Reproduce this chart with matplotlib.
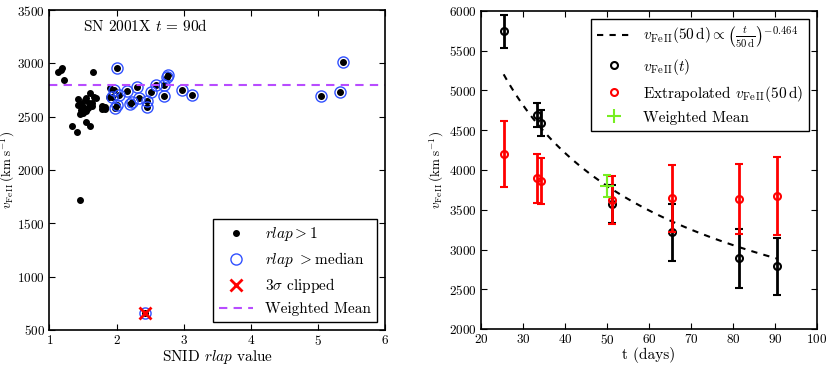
import numpy as np
import matplotlib
matplotlib.use("Agg")
import matplotlib.pyplot as plt

plt.rcParams['font.family'] = 'serif'
plt.rcParams['font.serif'] = ['cmr10', 'DejaVu Serif']
plt.rcParams['mathtext.fontset'] = 'cm'
plt.rcParams['axes.formatter.use_mathtext'] = True
plt.rcParams['font.size'] = 11

# left panel: velocity vs SNID rlap
rlap_low = [1.13, 1.17, 1.18, 1.22, 1.65, 1.34, 1.405, 1.54, 1.60, 1.455,
            1.43, 1.455, 1.42, 1.48, 1.53, 1.55, 1.60, 1.59, 1.63, 1.67, 1.70,
            1.52, 1.58, 1.47, 1.50, 1.55, 1.455, 1.63, 1.78, 1.82, 1.83, 1.79,
            1.90, 1.88]
v_low = [2922, 2938, 2953, 2844, 2916, 2415, 2356, 2447, 2415, 1720,
         2663, 2631, 2609, 2609, 2656, 2672, 2719, 2631, 2625, 2681, 2678,
         2578, 2578, 2562, 2537, 2556, 2525, 2600, 2600, 2588, 2569, 2569,
         2766, 2688]
rlap_high = [2.01, 1.96, 1.93, 2.03, 2.01, 1.97, 2.16, 2.30, 2.33, 2.20, 2.23,
             2.45, 2.46, 2.52, 2.58, 2.70, 2.71, 2.75, 2.77, 2.98, 3.13,
             5.04, 5.33, 5.37]
v_high = [2956, 2750, 2687, 2703, 2609, 2578, 2744, 2775, 2678, 2619, 2641,
          2647, 2594, 2734, 2797, 2797, 2694, 2869, 2888, 2750, 2700,
          2697, 2728, 3010]
rlap_clip = [2.43]
v_clip = [660]
v_wmean_left = 2795

# right panel: velocity vs epoch
t_obs = [25.4, 33.3, 34.4, 51.3, 65.4, 81.4, 90.5]
v_obs = [5745, 4692, 4588, 3568, 3216, 2889, 2789]
v_obs_err = [210, 155, 165, 240, 355, 370, 360]
v_extrap = [4198, 3896, 3862, 3620, 3644, 3631, 3677]
v_extrap_err = [415, 305, 290, 300, 420, 440, 490]
t_mean = [50.0]
v_mean = [3800]
v_mean_err = [135]
v50_fit = 3800
alpha = -0.464

purple = '#b84cff'
green = '#77ee22'
vlabel = r'$v_{\rm Fe\,II}\,({\rm km\;s^{-1}})$'

fig = plt.figure(figsize=(8.3, 3.65), dpi=100)
ax1 = fig.add_axes([0.0596, 0.0959, 0.4043, 0.8767])
ax2 = fig.add_axes([0.5795, 0.0986, 0.4048, 0.8713])

ax1.plot(rlap_low + rlap_high + rlap_clip, v_low + v_high + v_clip, 'o',
         color='k', ms=4, mec='k', label=r'$rlap > 1$')
ax1.plot(rlap_high + rlap_clip, v_high + v_clip, 'o', mfc='none', mec='#3050ff',
         ms=8, mew=1.0, label=r'$rlap$ $>$median')
ax1.plot(rlap_clip, v_clip, 'x', color='red', ms=9, mew=2, label=r'$3\sigma$ clipped')
ax1.axhline(v_wmean_left, color=purple, ls='--', lw=1.5, dashes=(4, 3), label='Weighted Mean')
ax1.set_xlim(1, 6)
ax1.set_ylim(500, 3500)
ax1.set_xlabel(r'SNID $rlap$ value', labelpad=0)
ax1.set_ylabel(vlabel, fontsize=9.5)
ax1.yaxis.set_label_coords(-0.097, 0.5)
ax1.text(0.1, 0.95, r'SN 2001X $t$ = 90d', transform=ax1.transAxes, va='center', ha='left')
leg1 = ax1.legend(loc='lower right', fancybox=False, edgecolor='k', framealpha=1,
                  borderpad=0.4, handlelength=2.2, labelspacing=0.45)
leg1.get_frame().set_linewidth(1.0)

tt = np.linspace(min(t_obs), max(t_obs), 100)
ax2.plot(tt, v50_fit * (tt / 50.0) ** alpha, 'k--', lw=1.5, dashes=(3, 3),
         label=r'$v_{\rm Fe\,II}(50\,{\rm d}) \propto \left(\frac{t}{50\,{\rm d}}\right)^{-0.464}$')
ax2.errorbar(t_obs, v_obs, yerr=v_obs_err, fmt='none', ecolor='k', elinewidth=2, capsize=3, capthick=1.5)
ax2.plot(t_obs, v_obs, 'o', mfc='none', mec='k', ms=5, mew=1.5, label=r'$v_{\rm Fe\,II}(t)$')
ax2.errorbar(t_obs, v_extrap, yerr=v_extrap_err, fmt='none', ecolor='red', elinewidth=2, capsize=3, capthick=1.5)
ax2.plot(t_obs, v_extrap, 'o', mfc='none', mec='red', ms=5, mew=1.5,
         label=r'Extrapolated $v_{\rm Fe\,II}(50\,{\rm d})$')
ax2.plot(t_mean, v_mean, '+', color=green, ms=10, mew=1.5, label='Weighted Mean')
ax2.errorbar(t_mean, v_mean, yerr=v_mean_err, fmt='none', ecolor=green,
             elinewidth=1.5, capsize=3, capthick=1.5)
ax2.set_xlim(20, 100)
ax2.set_ylim(2000, 6000)
ax2.set_xlabel('t (days)', labelpad=0)
ax2.set_ylabel(vlabel, fontsize=9.5)
ax2.yaxis.set_label_coords(-0.105, 0.5)
leg2 = ax2.legend(loc='upper right', fancybox=False, edgecolor='k', framealpha=1,
                  borderpad=0.4, handlelength=2.2, labelspacing=0.45)
leg2.get_frame().set_linewidth(1.0)

for ax in (ax1, ax2):
    ax.tick_params(direction='in', top=True, right=True, length=4, pad=3, labelsize=9.5)
    for s in ax.spines.values():
        s.set_linewidth(1.2)

fig.savefig('out.png', dpi=100)
